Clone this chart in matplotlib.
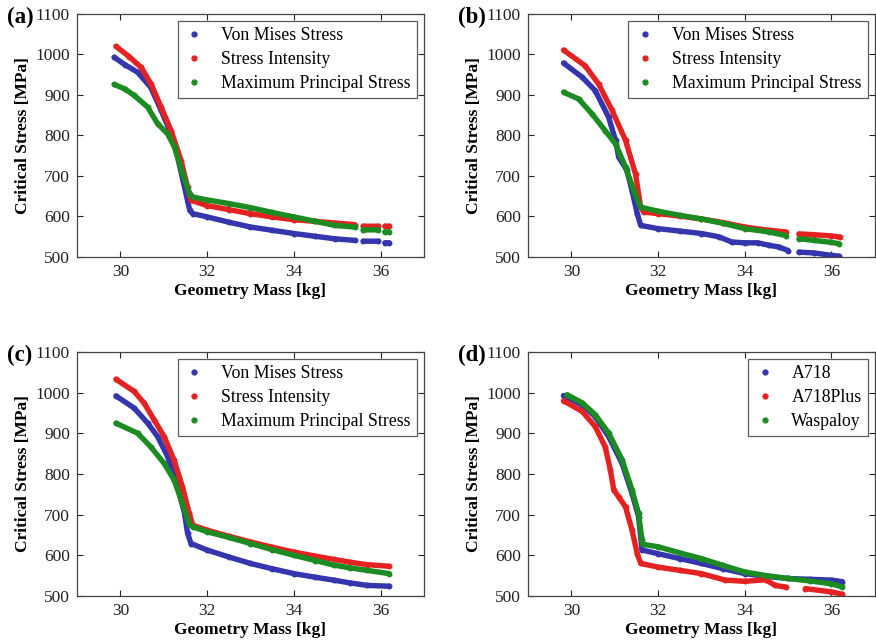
import numpy as np
import matplotlib
matplotlib.use('Agg')
import matplotlib.pyplot as plt
from matplotlib.lines import Line2D

plt.rcParams['font.family'] = ['Liberation Serif', 'DejaVu Serif']

nan = np.nan

# (a) stress criteria
a_mass_vm = [29.86, 30.1, 30.4, 30.7, 30.94, 31.17, 31.32, 31.48, 31.6, 31.67, 32.0, 32.5, 33.0, 33.5, 34.0, 34.5, 34.94, 35.4, nan, 35.6, 35.95, nan, 36.1, 36.2]
a_vm = [993, 975, 956, 919, 862, 804, 747, 672, 615, 607, 599, 586, 574, 566, 558, 551, 545, 541, nan, 539, 539, nan, 535, 535]
a_mass_si = [29.9, 30.2, 30.48, 30.71, 30.94, 31.17, 31.4, 31.55, 31.63, 32.0, 32.5, 33.0, 33.5, 34.0, 34.5, 34.94, 35.4, nan, 35.6, 35.95, nan, 36.1, 36.2]
a_si = [1020, 995, 968, 927, 870, 812, 738, 672, 640, 627, 617, 607, 599, 592, 588, 584, 580, nan, 576, 576, nan, 576, 576]
a_mass_mp = [29.86, 30.1, 30.32, 30.63, 30.86, 31.09, 31.25, 31.44, 31.6, 31.67, 32.0, 32.5, 33.0, 33.5, 34.0, 34.5, 34.94, 35.4, nan, 35.6, 35.95, nan, 36.1, 36.2]
a_mp = [926, 915, 899, 870, 829, 804, 771, 705, 656, 648, 641, 632, 622, 610, 599, 588, 578, 574, nan, 567, 567, nan, 562, 562]

# (b) stress criteria
b_mass_vm = [29.82, 30.25, 30.55, 30.86, 31.02, 31.09, 31.28, 31.4, 31.52, 31.6, 32.0, 32.5, 33.0, 33.4, 33.7, 34.0, 34.3, 34.55, 34.78, 35.0, nan, 35.25, 35.6, 36.0, 36.17]
b_vm = [979, 944, 911, 845, 788, 747, 714, 664, 607, 578, 570, 564, 558, 550, 537, 535, 535, 529, 525, 516, nan, 512, 510, 504, 502]
b_mass_si = [29.82, 30.32, 30.63, 30.94, 31.25, 31.48, 31.6, 31.67, 32.0, 32.5, 33.0, 33.5, 34.0, 34.55, 34.94, nan, 35.25, 35.6, 36.0, 36.2]
b_si = [1011, 972, 927, 862, 788, 705, 623, 611, 607, 601, 594, 585, 574, 566, 562, nan, 557, 555, 552, 549]
b_mass_mp = [29.82, 30.17, 30.48, 30.78, 31.02, 31.25, 31.44, 31.6, 32.0, 32.5, 33.0, 33.5, 34.0, 34.55, 34.94, nan, 35.25, 35.6, 36.0, 36.17]
b_mp = [907, 890, 853, 812, 779, 722, 664, 623, 613, 603, 594, 583, 570, 562, 553, nan, 545, 541, 536, 533]

# (c) stress criteria
c_mass_vm = [29.9, 30.32, 30.63, 30.86, 31.09, 31.32, 31.48, 31.55, 31.63, 32.0, 32.5, 33.0, 33.5, 34.0, 34.5, 34.92, 35.3, 35.69, 36.2]
c_vm = [992, 962, 925, 892, 843, 769, 703, 654, 629, 613, 596, 580, 567, 555, 546, 539, 532, 526, 524]
c_mass_si = [29.9, 30.32, 30.55, 30.78, 31.01, 31.24, 31.43, 31.59, 31.67, 32.0, 32.5, 33.0, 33.5, 34.0, 34.5, 34.92, 35.3, 35.69, 36.2]
c_si = [1033, 1003, 974, 933, 892, 834, 769, 703, 674, 662, 647, 633, 620, 608, 598, 590, 583, 577, 573]
c_mass_mp = [29.9, 30.4, 30.7, 31.01, 31.24, 31.43, 31.59, 31.67, 32.0, 32.5, 33.0, 33.5, 34.0, 34.5, 34.92, 35.3, 35.69, 36.2]
c_mp = [925, 900, 867, 826, 785, 728, 678, 670, 658, 644, 629, 614, 600, 587, 576, 569, 563, 555]

# (d) materials
d_mass_a718 = [29.82, 30.25, 30.55, 30.86, 31.17, 31.4, 31.55, 31.6, 31.63, 32.0, 32.5, 33.0, 33.5, 34.0, 34.5, 35.0, 35.5, 36.0, 36.25]
d_a718 = [993, 970, 941, 892, 826, 752, 695, 645, 613, 604, 592, 580, 567, 555, 548, 543, 541, 539, 535]
d_mass_plus = [29.82, 30.25, 30.55, 30.78, 30.9, 30.98, 31.09, 31.25, 31.4, 31.52, 31.6, 32.0, 32.5, 33.0, 33.55, 34.0, 34.48, 34.7, 34.94, nan, 35.4, 36.0, 36.25]
d_plus = [980, 954, 917, 867, 810, 760, 744, 719, 662, 604, 580, 571, 563, 555, 539, 536, 540, 526, 522, nan, 518, 510, 504]
d_mass_wasp = [29.9, 30.25, 30.55, 30.86, 31.17, 31.4, 31.55, 31.63, 31.65, 32.0, 32.5, 33.0, 33.5, 34.0, 34.5, 35.0, 35.5, 36.0, 36.25]
d_wasp = [995, 975, 946, 901, 835, 761, 703, 637, 627, 621, 606, 592, 575, 559, 550, 543, 537, 530, 522]

stress_names = ['Von Mises Stress', 'Stress Intensity', 'Maximum Principal Stress']
material_names = ['A718', 'A718Plus', 'Waspaloy']
colors = ['#3535ad', '#e42222', '#1c8c22']

panels = [
    ('(a)', [(a_mass_vm, a_vm), (a_mass_si, a_si), (a_mass_mp, a_mp)], stress_names),
    ('(b)', [(b_mass_vm, b_vm), (b_mass_si, b_si), (b_mass_mp, b_mp)], stress_names),
    ('(c)', [(c_mass_vm, c_vm), (c_mass_si, c_si), (c_mass_mp, c_mp)], stress_names),
    ('(d)', [(d_mass_a718, d_a718), (d_mass_plus, d_plus), (d_mass_wasp, d_wasp)], material_names),
]

fig = plt.figure(figsize=(8.76, 6.42), dpi=100)
boxes = [
    [0.0879, 0.5997, 0.396, 0.3785],
    [0.6027, 0.5997, 0.396, 0.3785],
    [0.0879, 0.0717, 0.396, 0.380],
    [0.6027, 0.0717, 0.396, 0.380],
]

for box, (tag, series, names) in zip(boxes, panels):
    ax = fig.add_axes(box)
    for (m, s), c in zip(series, colors):
        ax.plot(m, s, '-', color=c, lw=3.9, marker='.', ms=6.5, solid_capstyle='round')
    ax.set_xlim(29, 37)
    ax.set_ylim(500, 1100)
    ax.set_xticks([30, 32, 34, 36])
    ax.set_yticks(range(500, 1101, 100))
    ax.tick_params(direction='in', top=True, right=True, length=4, width=0.8,
                   labelsize=12.5, colors='#222222', pad=5)
    for sp in ax.spines.values():
        sp.set_color('#444444')
        sp.set_linewidth(0.9)
    ax.set_xlabel('Geometry Mass [kg]', fontsize=12.5, fontweight='bold', labelpad=2)
    ax.set_ylabel('Critical Stress [MPa]', fontsize=12.5, fontweight='bold', labelpad=3)
    ax.text(-0.202, 0.985, tag, transform=ax.transAxes, fontsize=16.5, fontweight='bold',
            ha='left', va='center')

    handles = [Line2D([], [], ls='none', marker='.', ms=7, color=c) for c in colors]
    leg = ax.legend(handles, names, loc='upper right', fontsize=12.8, frameon=True,
                    fancybox=False, edgecolor='#333333', handlelength=1.2,
                    handletextpad=0.9, labelspacing=0.38, borderpad=0.35,
                    borderaxespad=0.4)
    leg.get_frame().set_linewidth(0.9)

fig.savefig('out.png', dpi=100)
